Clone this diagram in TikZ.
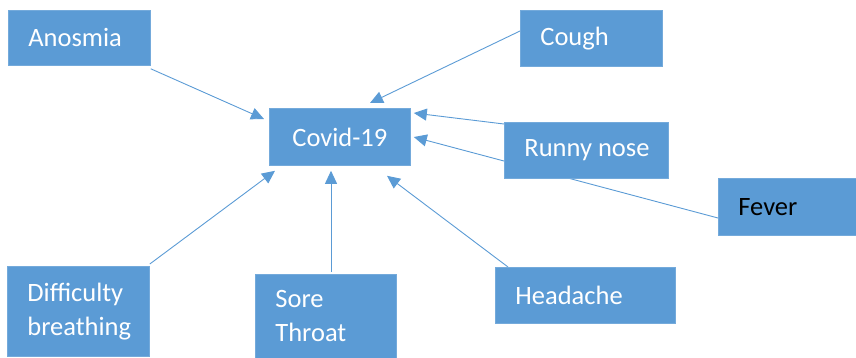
\documentclass[tikz,border=0pt]{standalone}
\usepackage{fontspec}
\setmainfont{Carlito}
\usetikzlibrary{calc,arrows.meta,backgrounds}
\definecolor{boxblue}{HTML}{5B9BD5}
\begin{document}
\begin{tikzpicture}[x=1pt,y=-1pt,
  sym/.style={draw=boxblue!85!white,fill=boxblue,line width=0.8pt,text=white,
    font=\fontsize{26.5}{34}\selectfont,align=left,inner xsep=0pt,inner ysep=0pt,anchor=north west},
  conn/.style={draw=boxblue,line width=0.9pt,-{Triangle[length=13pt,width=12pt]}}]
\useasboundingbox (0,0) rectangle (856,357);
\node[sym,minimum width=142pt,minimum height=55pt] (anosmia) at (8,10)
  {\hspace*{20pt}\parbox{122pt}{Anosmia}};
\node[sym,minimum width=142pt,minimum height=56pt] (cough) at (520,10)
  {\hspace*{20pt}\parbox{122pt}{Cough}};
\node[sym,minimum width=141pt,minimum height=57pt,align=center] (covid) at (269,108)
  {\parbox{141pt}{\centering Covid-19}};
\node[sym,minimum width=164pt,minimum height=56pt] (runny) at (504,122)
  {\hspace*{20pt}\parbox{144pt}{Runny nose}};
\node[sym,minimum width=140pt,minimum height=57pt,text=black] (fever) at (718,178)
  {\hspace*{20pt}\parbox{120pt}{Fever}};
\node[sym,minimum width=142pt,minimum height=90pt] (diff) at (7,266)
  {\hspace*{20pt}\parbox{122pt}{Difficulty\\breathing}};
\node[sym,minimum width=141pt,minimum height=84pt] (sore) at (255,274)
  {\hspace*{20pt}\parbox{121pt}{Sore\\Throat}};
\node[sym,minimum width=180pt,minimum height=56pt] (head) at (495,267)
  {\hspace*{20pt}\parbox{160pt}{Headache}};
\begin{scope}[on background layer]
\draw[conn] ($(anosmia.south east)+(0,3)$) -- ($(covid.north west)+(-5,11)$);
\draw[conn] ($(cough.north west)+(0,21)$) -- ($(covid.north west)+(101,-5)$);
\draw[conn] ($(runny.north west)+(0,2)$) -- ($(covid.north east)+(3,5)$);
\draw[conn] ($(fever.north west)+(0,40)$) -- ($(covid.north east)+(3,29)$);
\draw[conn] ($(diff.north east)+(0,-2)$) -- ($(covid.south west)+(6,5)$);
\draw[conn] ($(sore.north west)+(76,-2)$) -- ($(covid.south west)+(62,5)$);
\draw[conn] ($(head.north west)+(13,0)$) -- ($(covid.south west)+(118,10)$);
\end{scope}
\end{tikzpicture}
\end{document}
